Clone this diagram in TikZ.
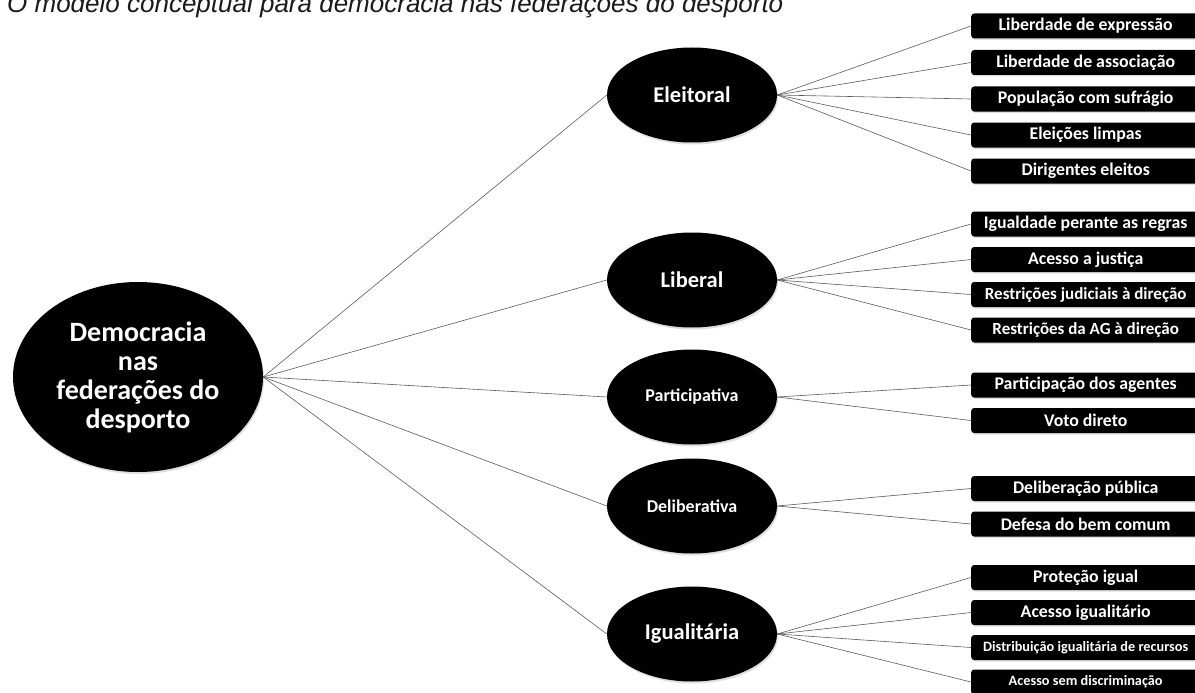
\documentclass[tikz,border=0pt]{standalone}
\usepackage{fontspec}
\setmainfont{Carlito}
\newfontfamily\titlefont{Liberation Sans}
\usetikzlibrary{shapes.geometric,shadows}
\definecolor{ink}{HTML}{000000}
\definecolor{wire}{HTML}{5A5A5A}
\definecolor{caption}{HTML}{1A1A1A}
\tikzset{
  core/.style={ellipse, fill=ink, text=white, inner sep=0pt, minimum width=250pt, minimum height=190pt,
    align=center, font=\fontsize{28}{29}\selectfont\bfseries,
    drop shadow={shadow xshift=1pt, shadow yshift=-2pt, opacity=.25}},
  dim/.style={ellipse, fill=ink, text=white, inner sep=0pt, minimum width=170pt, minimum height=95pt,
    font=\fontsize{22.5}{26}\selectfont\bfseries,
    drop shadow={shadow xshift=1pt, shadow yshift=-2pt, opacity=.25}},
  dims/.style={dim, font=\fontsize{18}{21}\selectfont\bfseries},
  item/.style={rectangle, rounded corners=3pt, fill=ink, text=white, inner sep=0pt, anchor=west,
    minimum width=229pt, minimum height=25pt, font=\fontsize{17.8}{20}\selectfont\bfseries,
    drop shadow={shadow xshift=1pt, shadow yshift=-1.5pt, opacity=.25}},
  link/.style={draw=wire, line width=0.6pt},
  caption/.style={text=caption, anchor=base west, inner sep=0pt, font=\titlefont\itshape\fontsize{26}{30}\selectfont},
}

\begin{document}
\begin{tikzpicture}[x=1pt, y=-1pt]
  \useasboundingbox (0,0) rectangle (1195,693);
  \clip (0,0) rectangle (1195,693);

  \node[caption] (title) at (7,12.5) {O modelo conceptual para democracia nas federações do desporto};

  % centro
  \node[core] (demo) at (138,377) {Democracia\\nas\\federações do\\desporto};

  % dimensoes
  \node[dim]  (eleit) at (692,95)  {Eleitoral};
  \node[dim]  (liber) at (692,280) {Liberal};
  \node[dims] (parti) at (692,397) {Participativa};
  \node[dims] (delib) at (692,506) {Deliberativa};
  \node[dim]  (igual) at (692,634) {Igualitária};

  \foreach \d in {eleit,liber,parti,delib,igual}
    \draw[link] (demo.east) -- (\d.west);

  % componentes
  \node[item] (e1) at (971,26)    {Liberdade de expressão};
  \node[item] (e2) at (971,62.5)  {Liberdade de associação};
  \node[item] (e3) at (971,99)    {População com sufrágio};
  \node[item] (e4) at (971,135)   {Eleições limpas};
  \node[item] (e5) at (971,171)   {Dirigentes eleitos};

  \node[item] (l1) at (971,224)   {Igualdade perante as regras};
  \node[item] (l2) at (971,259.5) {Acesso a justiça};
  \node[item, font=\fontsize{17}{19}\selectfont\bfseries] (l3) at (971,294.5) {Restrições judiciais à direção};
  \node[item, font=\fontsize{17}{19}\selectfont\bfseries] (l4) at (971,330) {Restrições da AG à direção};

  \node[item] (p1) at (971,385)   {Participação dos agentes};
  \node[item] (p2) at (971,420.5) {Voto direto};

  \node[item] (d1) at (971,488.5) {Deliberação pública};
  \node[item] (d2) at (971,524)   {Defesa do bem comum};

  \node[item] (i1) at (971,577.5) {Proteção igual};
  \node[item] (i2) at (971,612.5) {Acesso igualitário};
  \node[item, font=\fontsize{14.3}{16}\selectfont\bfseries] (i3) at (971,647.5) {Distribuição igualitária de recursos};
  \node[item, font=\fontsize{14.3}{16}\selectfont\bfseries] (i4) at (971,682) {Acesso sem discriminação};

  \foreach \c in {e1,e2,e3,e4,e5}
    \draw[link] (eleit.east) -- (\c.west);
  \foreach \c in {l1,l2,l3,l4}
    \draw[link] (liber.east) -- (\c.west);
  \foreach \c in {p1,p2}
    \draw[link] (parti.east) -- (\c.west);
  \foreach \c in {d1,d2}
    \draw[link] (delib.east) -- (\c.west);
  \foreach \c in {i1,i2,i3,i4}
    \draw[link] (igual.east) -- (\c.west);
\end{tikzpicture}
\end{document}
